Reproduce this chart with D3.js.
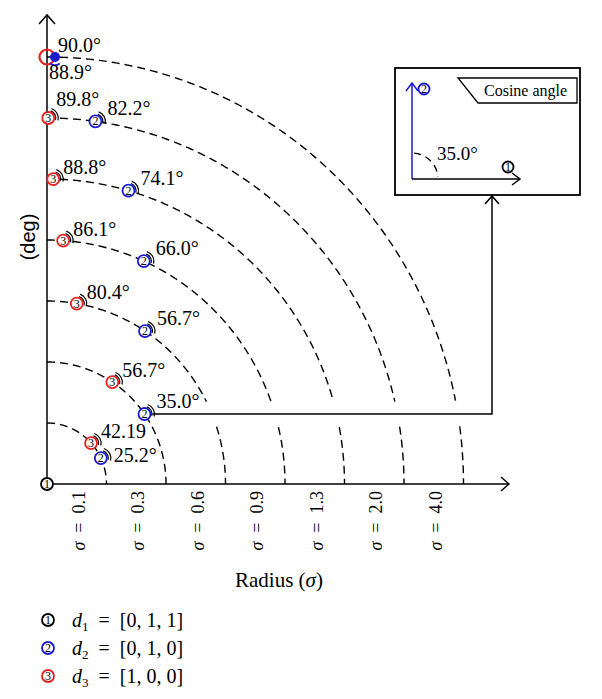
<!DOCTYPE html>
<html><head><meta charset="utf-8">
<script src="https://cdn.jsdelivr.net/npm/d3@7/dist/d3.min.js"></script>
<style>body{margin:0;background:#fff}svg{display:block}</style>
</head><body>
<svg id="chart" width="602" height="699"></svg>
<script>
// ---- data ----
const sigmaLabels = ["0.1", "0.3", "0.6", "0.9", "1.3", "2.0", "4.0"];
const d2Angles = [25.2, 35.0, 56.7, 66.0, 74.1, 82.2, 88.9];   // blue, per sigma ring
const d3Angles = [42.19, 56.7, 80.4, 86.1, 88.8, 89.8, 90.0];  // red, per sigma ring
const insetAngle = 35.0;
const legendIds = ["1", "2", "3"];
const legendVectors = ["[0, 1, 1]", "[0, 1, 0]", "[1, 0, 0]"];
const seriesColors = ["#000000", "#1a1ad2", "#e8211e"];

// ---- setup ----
const svg = d3.select("#chart");
const SERIF = "Liberation Serif, Times New Roman, serif";
const SANS = "Liberation Sans, Arial, sans-serif";
const nR = sigmaLabels.length;
const rx = d3.scaleLinear().domain([0, nR]).range([47, 463.5]);
const ry = d3.scaleLinear().domain([0, nR]).range([484, 57]);
const rad = a => a * Math.PI / 180;
const pos = (ring, ang) => [rx(ring * Math.cos(rad(ang))), ry(ring * Math.sin(rad(ang)))];
const fmt = v => (Math.abs(v * 10 - Math.round(v * 10)) < 1e-9) ? v.toFixed(1) + "\u00B0" : String(v);

// connector anchored at d2 point on ring 2 (the inset example)
const connRing = 2;
const [cbx, cby] = pos(connRing, d2Angles[connRing - 1]);
const connStart = cbx + 8;
const box = {x0: 395, y0: 68, x1: 580, y1: 195};
const connX = 492;

// ---- dashed rings ----
const line = d3.line().defined(d => d.ok).x(d => d.x).y(d => d.y);
for (let i = 1; i <= nR; i++) {
  const pts = d3.range(90, -0.01, -0.25).map(t => {
    const [x, y] = pos(i, t);
    return {x, y, ok: !(x > connStart && Math.abs(y - cby) < 12)};
  });
  svg.append("path").attr("d", line(pts)).attr("fill", "none")
    .attr("stroke", "#000").attr("stroke-width", 1.4).attr("stroke-dasharray", "8,5");
}

// ---- axes ----
const ax = svg.append("g").attr("stroke", "#000").attr("stroke-width", 1.5).attr("fill", "none");
ax.append("line").attr("x1", rx(0)).attr("y1", ry(0)).attr("x2", rx(0)).attr("y2", 15);
ax.append("path").attr("d", `M${rx(0) - 8},${24} L${rx(0)},15 L${rx(0) + 8},24`);
ax.append("line").attr("x1", rx(0)).attr("y1", ry(0)).attr("x2", 509).attr("y2", ry(0));
ax.append("path").attr("d", `M501,${ry(0) - 7} L509,${ry(0)} L501,${ry(0) + 7}`);

// ---- connector + inset ----
const cg = svg.append("g").attr("stroke", "#000").attr("stroke-width", 1.5).attr("fill", "none");
cg.append("path").attr("d", `M${connStart},${cby} L${connX},${cby} L${connX},${box.y1 + 1}`);
cg.append("path").attr("d", `M${connX - 7},${box.y1 + 9} L${connX},${box.y1 + 1} L${connX + 7},${box.y1 + 9}`);
cg.append("rect").attr("x", box.x0).attr("y", box.y0).attr("width", box.x1 - box.x0).attr("height", box.y1 - box.y0)
  .attr("fill", "#fff").attr("stroke-width", 1.8);

// ---- markers ----
function marker(g, x, y, id, color, withTicks, r = 6) {
  if (withTicks) {
    [7.5, 10].forEach(rr => {
      const p = d3.path(); p.arc(x, y, rr, -1.25, 0.25);
      g.append("path").attr("d", p.toString()).attr("fill", "none").attr("stroke", "#000").attr("stroke-width", 1.2);
    });
  }
  g.append("circle").attr("cx", x).attr("cy", y).attr("r", r)
    .attr("fill", "#fff").attr("stroke", color).attr("stroke-width", 1.8);
  g.append("text").attr("x", x).attr("y", y + 4).attr("text-anchor", "middle")
    .attr("font-family", SERIF).attr("font-size", 12).attr("fill", "#000").text(id);
}

const io = [412, 179];
svg.append("line").attr("x1", io[0]).attr("y1", io[1]).attr("x2", io[0]).attr("y2", 83)
  .attr("stroke", seriesColors[1]).attr("stroke-width", 1.5);
svg.append("path").attr("d", `M${io[0] - 6},91 L${io[0]},83 L${io[0] + 6},91`)
  .attr("stroke", seriesColors[1]).attr("stroke-width", 1.5).attr("fill", "none");
svg.append("line").attr("x1", io[0]).attr("y1", io[1]).attr("x2", 520).attr("y2", io[1])
  .attr("stroke", "#000").attr("stroke-width", 1.5);
svg.append("path").attr("d", `M512,${io[1] - 6} L520,${io[1]} L512,${io[1] + 6}`)
  .attr("stroke", "#000").attr("stroke-width", 1.5).attr("fill", "none");
const ip = d3.path(); ip.arc(io[0], io[1], 26, -Math.PI / 2 + 0.08, -0.08);
svg.append("path").attr("d", ip.toString()).attr("fill", "none").attr("stroke", "#000")
  .attr("stroke-width", 1.4).attr("stroke-dasharray", "7,5");
svg.append("text").attr("x", 437).attr("y", 160).attr("font-family", SERIF).attr("font-size", 19)
  .text(fmt(insetAngle));
marker(svg, 424, 89, legendIds[1], seriesColors[1], false, 5.5);
marker(svg, 508, 167, legendIds[0], seriesColors[0], false, 5.5);
svg.append("path").attr("d", "M458,78 L577,78 L577,103 L478,103 Z").attr("fill", "#fff")
  .attr("stroke", "#000").attr("stroke-width", 1.3);
svg.append("text").attr("x", 484).attr("y", 96).attr("font-family", SERIF).attr("font-size", 16)
  .text("Cosine angle");

const mg = svg.append("g");
const lg = svg.append("g").attr("font-family", SERIF).attr("font-size", 20).attr("fill", "#000");
// origin marker d1
marker(mg, rx(0), ry(0), legendIds[0], seriesColors[0], false);

// all marker centres, to keep labels from covering them
const allPts = [];
for (let i = 0; i < nR; i++) {
  allPts.push(pos(i + 1, d2Angles[i]), pos(i + 1, d3Angles[i]));
}
const hitsMarker = (lx, ly, w) => allPts.some(([px, py]) =>
  px + 6 > lx && px - 6 < lx + w && py + 6 > ly - 17 && py - 6 < ly + 4);

for (let i = 0; i < nR; i++) {
  const ring = i + 1;
  const [bx, by] = pos(ring, d2Angles[i]);
  const [rxp, ryp] = pos(ring, d3Angles[i]);
  const overlap = Math.hypot(bx - rxp, by - ryp) < 12;
  if (overlap) {
    mg.append("circle").attr("cx", rxp).attr("cy", ryp).attr("r", 7.5).attr("fill", "none")
      .attr("stroke", seriesColors[2]).attr("stroke-width", 2.2);
    mg.append("circle").attr("cx", bx).attr("cy", by).attr("r", 5).attr("fill", seriesColors[1]);
    const bp = d3.path(); bp.arc(bx, by, 8, Math.PI * 0.3, Math.PI * 0.7);
    mg.append("path").attr("d", bp.toString()).attr("fill", "none").attr("stroke", seriesColors[1]).attr("stroke-width", 1.8);
    lg.append("text").attr("x", rxp + 11).attr("y", ryp - 5).text(fmt(d3Angles[i]));
    lg.append("text").attr("x", bx - 6).attr("y", by + 22).text(fmt(d2Angles[i]));
  } else {
    marker(mg, rxp, ryp, legendIds[2], seriesColors[2], true);
    marker(mg, bx, by, legendIds[1], seriesColors[1], true);
    let redLab = [rxp + 10, ryp - 5];
    if (hitsMarker(redLab[0], redLab[1], 46)) redLab = [rxp + 8, ryp - 12];
    let blueLab = [bx + 12, by - 6];
    // keep the blue label clear of the red one on the same ring
    if (Math.abs(blueLab[1] - redLab[1]) < 22 && Math.abs(blueLab[0] - redLab[0]) < 50) blueLab = [bx + 13, by + 4];
    lg.append("text").attr("x", redLab[0]).attr("y", redLab[1]).text(fmt(d3Angles[i]));
    lg.append("text").attr("x", blueLab[0]).attr("y", blueLab[1]).text(fmt(d2Angles[i]));
  }
}

// ---- axis labels ----
sigmaLabels.forEach((s, i) => {
  const x = rx(i + 0.5) + 2, y = 491;
  const t = svg.append("text").attr("transform", `translate(${x},${y}) rotate(-90)`)
    .attr("text-anchor", "end").attr("dominant-baseline", "central")
    .attr("font-family", SERIF).attr("font-size", 18);
  t.append("tspan").attr("font-style", "italic").text("\u03C3");
  t.append("tspan").text("\u2002=\u2002" + s);
});
const xl = svg.append("text").attr("x", 279).attr("y", 587).attr("text-anchor", "middle")
  .attr("font-family", SERIF).attr("font-size", 21);
xl.append("tspan").text("Radius (");
xl.append("tspan").attr("font-style", "italic").text("\u03C3");
xl.append("tspan").text(")");

svg.append("text").attr("transform", "translate(28,237) rotate(-90)").attr("text-anchor", "middle")
  .attr("dominant-baseline", "central").attr("font-family", SANS).attr("font-size", 20).text("(deg)");

// ---- legend ----
legendIds.forEach((id, i) => {
  const y = 620 + i * 28;
  marker(svg, 48, y, id, seriesColors[i], false);
  const t = svg.append("text").attr("x", 72).attr("y", y + 7).attr("font-family", SERIF).attr("font-size", 20);
  t.append("tspan").attr("font-style", "italic").text("d");
  t.append("tspan").attr("font-size", 13).attr("dy", 4).text(id);
  t.append("tspan").attr("dy", -4).text("\u2002=\u2002" + legendVectors[i]);
});
</script>
</body></html>
